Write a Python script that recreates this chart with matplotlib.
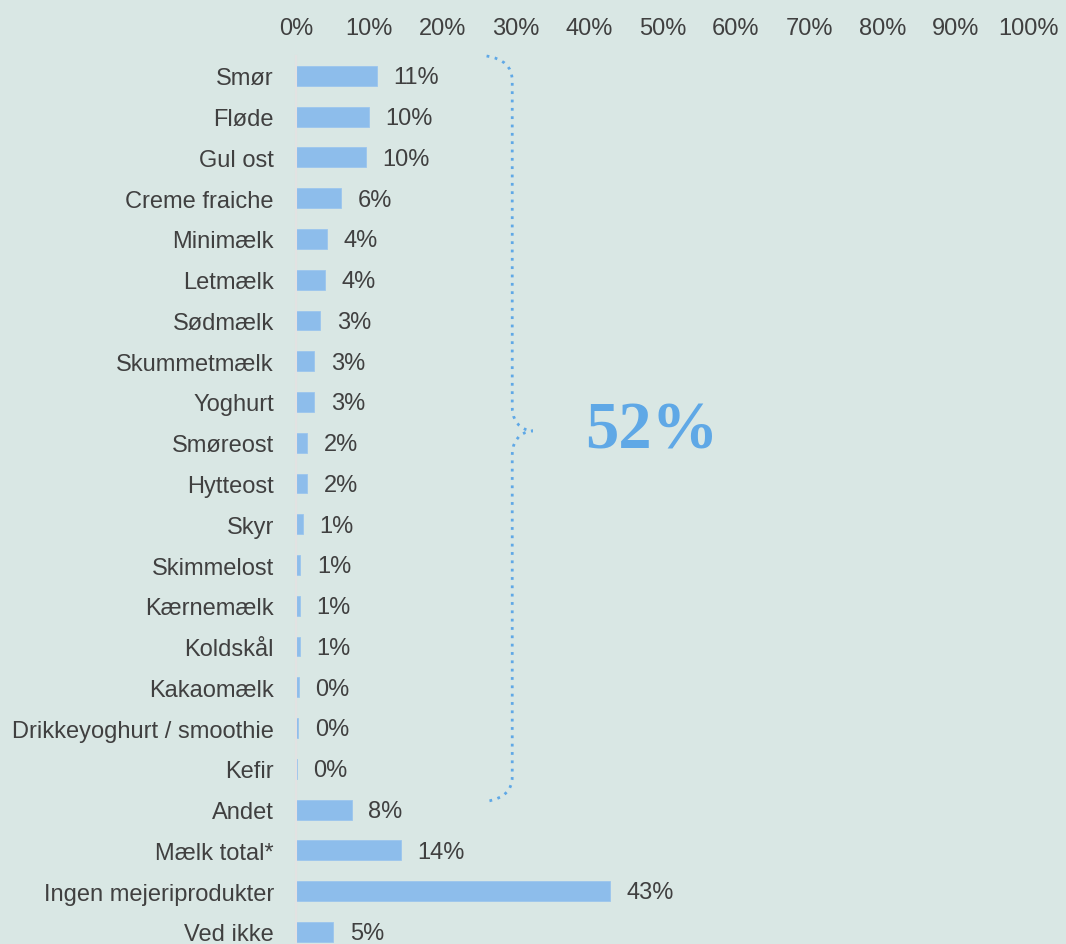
import numpy as np
import matplotlib.pyplot as plt
from matplotlib.path import Path
from matplotlib.patches import PathPatch

# data
categories = ['Smør', 'Fløde', 'Gul ost', 'Creme fraiche', 'Minimælk', 'Letmælk',
              'Sødmælk', 'Skummetmælk', 'Yoghurt', 'Smøreost', 'Hytteost', 'Skyr',
              'Skimmelost', 'Kærnemælk', 'Koldskål', 'Kakaomælk',
              'Drikkeyoghurt / smoothie', 'Kefir', 'Andet', 'Mælk total*',
              'Ingen mejeriprodukter', 'Ved ikke']
values = [11.0, 9.9, 9.5, 6.1, 4.2, 4.0, 3.3, 2.5, 2.5, 1.5, 1.5, 0.9,
          0.6, 0.55, 0.55, 0.37, 0.27, 0.07, 7.6, 14.3, 42.8, 5.1]
value_labels = ['11%', '10%', '10%', '6%', '4%', '4%', '3%', '3%', '3%', '2%', '2%', '1%',
                '1%', '1%', '1%', '0%', '0%', '0%', '8%', '14%', '43%', '5%']
xticks = [0, 10, 20, 30, 40, 50, 60, 70, 80, 90, 100]
xtick_labels = ['0%', '10%', '20%', '30%', '40%', '50%', '60%', '70%', '80%', '90%', '100%']
total_label = '52%'

bg = '#d9e7e4'
bar_color = '#8dbdeb'
accent = '#5fa8e6'
text_color = '#404040'

plt.rcParams['font.family'] = ['Liberation Sans', 'DejaVu Sans']

fig = plt.figure(figsize=(10.66, 9.45), dpi=100)
fig.patch.set_facecolor(bg)
W, H = 1066, 945
ax = fig.add_axes([296 / W, 0, (1029 - 296) / W, (945 - 56.6) / H])
ax.set_facecolor(bg)

y = np.arange(len(categories))
ax.barh(y, values, height=0.49, color=bar_color, edgecolor='#9cc6ee', linewidth=0.6)
for yi, v, lab in zip(y, values, value_labels):
    ax.annotate(lab, (v, yi), xytext=(12, -1), textcoords='offset points',
                ha='left', va='center', fontsize=17, color=text_color)

ax.set_xlim(0, 100)
ax.set_ylim(21.3, -0.5)
ax.set_xticks(xticks)
ax.set_xticklabels(xtick_labels)
ax.set_yticks(y)
ax.set_yticklabels(categories)
ax.xaxis.tick_top()
ax.tick_params(axis='x', length=0, pad=12, labelsize=17, colors=text_color)
ax.tick_params(axis='y', length=0, pad=16, labelsize=17, colors=text_color)
for s in ['top', 'right', 'bottom']:
    ax.spines[s].set_visible(False)
ax.spines['left'].set_color('#e2e2e2')
ax.spines['left'].set_linewidth(1.5)

# curly brace around the dairy products
x0, x1, x2 = 26.0, 29.5, 32.3
top, mid, bot = -0.49, 8.71, 17.8
verts = [(x0, top), (x1, top + 0.1), (x1, top + 0.6),
         (x1, mid - 0.6),
         (x1, mid - 0.1), (x2 - 0.8, mid), (x2, mid),
         (x2 - 0.8, mid), (x1, mid + 0.1), (x1, mid + 0.6),
         (x1, bot - 0.6),
         (x1, bot - 0.1), (x0, bot)]
codes = [Path.MOVETO, Path.CURVE3, Path.CURVE3,
         Path.LINETO,
         Path.CURVE4, Path.CURVE4, Path.CURVE4,
         Path.CURVE4, Path.CURVE4, Path.CURVE4,
         Path.LINETO,
         Path.CURVE3, Path.CURVE3]
brace = PathPatch(Path(verts, codes), facecolor='none', edgecolor=accent,
                  linewidth=2, linestyle=(0, (1, 2)), clip_on=False)
ax.add_patch(brace)

ax.text(48.5, mid, total_label, ha='center', va='center', fontsize=48,
        fontweight='bold', color=accent, family=['Liberation Serif', 'DejaVu Serif'])

plt.savefig('out.png', facecolor=bg)
